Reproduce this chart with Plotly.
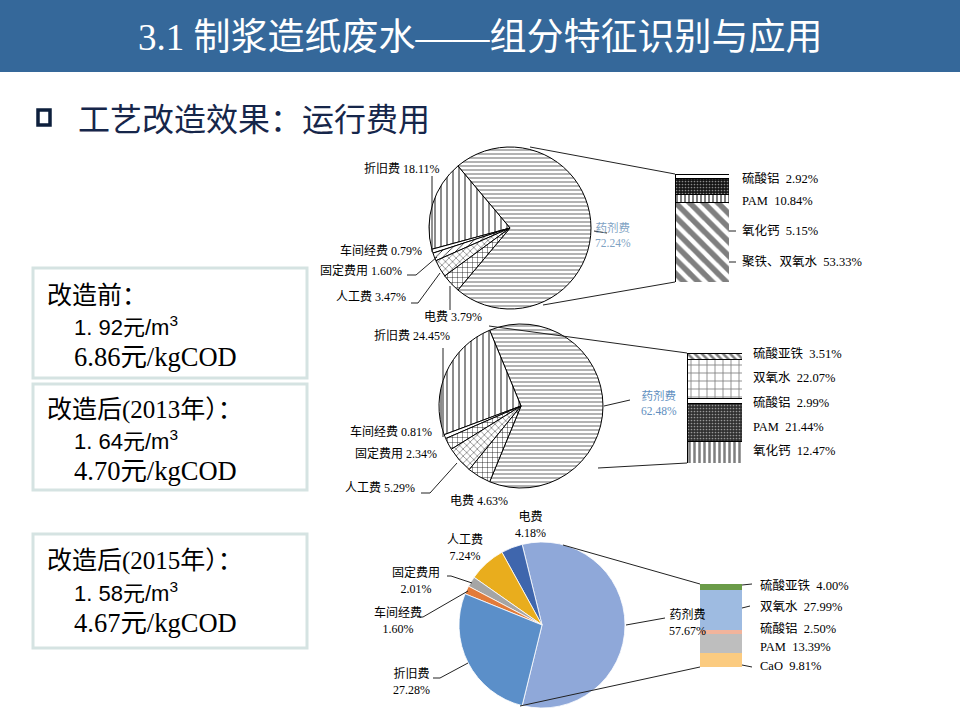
import plotly.graph_objects as go

W, H = 960, 720

# ---- data -------------------------------------------------------------
# 药剂费 first, the other items follow counterclockwise
before_labels = ["药剂费", "折旧费", "车间经费", "固定费用", "人工费", "电费"]
before_values = [72.24, 18.11, 0.79, 1.60, 3.47, 3.79]

after13_labels = ["药剂费", "折旧费", "车间经费", "固定费用", "人工费", "电费"]
after13_values = [62.48, 24.45, 0.81, 2.34, 5.29, 4.63]

after15_labels = ["药剂费", "电费", "人工费", "固定费用", "车间经费", "折旧费"]
after15_values = [57.67, 4.18, 7.24, 2.01, 1.60, 27.28]

# breakdown of 药剂费, listed bottom -> top of the stacked bar
bar1_labels = ["聚铁、双氧水", "氧化钙", "PAM", "硫酸铝"]
bar1_values = [53.33, 5.15, 10.84, 2.92]

bar2_labels = ["氧化钙", "PAM", "硫酸铝", "双氧水", "硫酸亚铁"]
bar2_values = [12.47, 21.44, 2.99, 22.07, 3.51]

bar3_labels = ["CaO", "PAM", "硫酸铝", "双氧水", "硫酸亚铁"]
bar3_values = [9.81, 13.39, 2.50, 27.99, 4.00]

box_titles = ["改造前：", "改造后(2013年）：", "改造后(2015年）："]
cost_m3 = ["1.92", "1.64", "1.58"]
cost_cod = ["6.86", "4.70", "4.67"]

SERIF = "Liberation Serif, Noto Sans CJK SC"
SANS = "Noto Sans CJK SC"


def px(x):
    return x / W


def py(y):
    return 1 - y / H


def start_rotation(values):
    # 药剂费 (first slice) centred at 3 o'clock, the rest centred at 9 o'clock
    other = sum(values[1:]) / sum(values) * 360
    start_math = 180 - other / 2
    return 90 - start_math


fig = go.Figure()

# ---- pies -------------------------------------------------------------
def pie_domain(cx, cy, r):
    return dict(x=[px(cx - r), px(cx + r)], y=[py(cy + r), py(cy - r)])


fig.add_trace(go.Pie(
    labels=before_labels, values=before_values, sort=False,
    direction="counterclockwise", rotation=start_rotation(before_values),
    domain=pie_domain(510, 228, 81), textinfo="none", textposition="none",
    showlegend=False,
    marker=dict(colors=["white"] * 6, line=dict(color="black", width=1),
                pattern=dict(shape=["-", "|", "", "/", "x", "+"], fgcolor="black",
                             bgcolor="white", size=[4, 6, 6, 5, 5, 5], solidity=0.15)),
))
fig.add_trace(go.Pie(
    labels=after13_labels, values=after13_values, sort=False,
    direction="counterclockwise", rotation=start_rotation(after13_values),
    domain=pie_domain(521, 406, 82), textinfo="none", textposition="none",
    showlegend=False,
    marker=dict(colors=["white"] * 6, line=dict(color="black", width=1),
                pattern=dict(shape=["-", "|", "", "+", "x", "+"], fgcolor="black",
                             bgcolor="white", size=[4, 6, 6, 5, 5, 5], solidity=0.15)),
))
fig.add_trace(go.Pie(
    labels=after15_labels, values=after15_values, sort=False,
    direction="counterclockwise", rotation=start_rotation(after15_values),
    domain=pie_domain(542, 625, 83), textinfo="none", textposition="none",
    showlegend=False,
    marker=dict(colors=["#8FA8D9", "#3F66AD", "#E9AD1D", "#A5A5A5", "#E27B3A", "#5B8FC9"],
                line=dict(color="white", width=0.8)),
))

# ---- stacked bars -----------------------------------------------------
dark_dots = dict(shape=".", size=3, solidity=0.25, fgcolor="white", bgcolor="#151515")
bars = [
    (bar1_labels, bar1_values, (675, 729, 174, 282),
     [dict(shape="\\", size=10, solidity=0.55), dict(shape="|", size=4, solidity=0.5),
      dark_dots, dict(shape="", size=4, solidity=0.3)],
     None),
    (bar2_labels, bar2_values, (687, 742, 353, 463),
     [dict(shape="|", size=5, solidity=0.5), dict(dark_dots, bgcolor="#303030"),
      dict(shape="", size=4, solidity=0.3), dict(shape="+", size=8, solidity=0.2),
      dict(shape="\\", size=5, solidity=0.5)],
     None),
    (bar3_labels, bar3_values, (700, 742, 584, 667), None,
     ["#FBCB80", "#BEBEBE", "#F1B49C", "#9EBBE1", "#6A9B48"]),
]

for i, (labels, values, box, patterns, colors) in enumerate(bars):
    n = "" if i == 0 else str(i + 1)
    x0, x1, y0, y1 = box
    for j, (lab, v) in enumerate(zip(labels, values)):
        if patterns:
            pat = dict(fgcolor="black", bgcolor="white")
            pat.update(patterns[j])
            marker = dict(color="white", line=dict(color="black", width=1), pattern=pat)
        else:
            marker = dict(color=colors[j], line=dict(width=0))
        fig.add_trace(go.Bar(x=[0], y=[v], name=lab, width=1, marker=marker,
                             xaxis="x" + n, yaxis="y" + n, showlegend=False))
    fig.layout["xaxis" + n] = dict(domain=[px(x0), px(x1)], range=[-0.5, 0.5],
                                   visible=False, fixedrange=True)
    fig.layout["yaxis" + n] = dict(domain=[py(y1), py(y0)], range=[0, sum(values)],
                                   visible=False, fixedrange=True)

fig.update_layout(barmode="stack")

# ---- annotations --------------------------------------------------------
ann = []


def text(x, y, s, size=12, color="black", family=SERIF, xanchor="center"):
    ann.append(dict(x=px(x), y=py(y), xref="paper", yref="paper", text=s,
                    showarrow=False, xanchor=xanchor, yanchor="middle",
                    font=dict(size=size, color=color, family=family)))


# header
text(480, 37, "3.1 制浆造纸废水——组分特征识别与应用", size=37, color="white")
text(76, 117, "工艺改造效果：运行费用", size=32, color="#16264A", family=SANS, xanchor="left")

# pie 1 labels
pos1 = {"折旧费": (402, 168), "车间经费": (381, 250), "固定费用": (361, 270),
        "人工费": (371, 297), "电费": (453, 317)}
for lab, v in zip(before_labels, before_values):
    if lab in pos1:
        text(*pos1[lab], f"{lab} {v:.2f}%", size=12)
text(613, 235, f"{before_labels[0]}<br>{before_values[0]:.2f}%", size=11.5, color="#7FA3C4")

pos2 = {"折旧费": (412, 335), "车间经费": (391, 431), "固定费用": (396, 453),
        "人工费": (380, 488), "电费": (479, 501)}
for lab, v in zip(after13_labels, after13_values):
    if lab in pos2:
        text(*pos2[lab], f"{lab} {v:.2f}%", size=12)
text(659, 403, f"{after13_labels[0]}<br>{after13_values[0]:.2f}%", size=11.5, color="#5F8FC0")

pos3 = {"电费": (530, 525), "人工费": (465, 548), "固定费用": (416, 580),
        "车间经费": (398, 620), "折旧费": (411, 681), "药剂费": (687, 622)}
for lab, v in zip(after15_labels, after15_values):
    text(*pos3[lab], f"{lab}<br>{v:.2f}%", size=12)

# bar labels
bar_label_pos = [
    [262, 231, 201, 178],
    [451, 427, 402, 378, 353],
    [666, 647, 628, 607, 585],
]
bar_label_x = [740, 751, 758]
for (labels, values, *_), ys, bx in zip(bars, bar_label_pos, bar_label_x):
    for lab, v, y in zip(labels, values, ys):
        text(bx, y, f"{lab}  {v:.2f}%", size=12.5, xanchor="left")

# text boxes
box_rows = [(293, 326, 357), (407, 440, 471), (558, 592, 623)]
for t, m3, cod, (y1, y2, y3) in zip(box_titles, cost_m3, cost_cod, box_rows):
    text(45, y1, t.replace("(", "<span style='font-family:Liberation Serif'>(")
         .replace("年", "</span>年"), size=25, family=SANS, xanchor="left")
    text(72, y2, f"{m3[:2]} {m3[2:]}元/m<sup>3</sup>", size=22,
         family="Liberation Sans, Noto Sans CJK SC", xanchor="left")
    text(72, y3, f"{cod}元/kgCOD", size=26.5, xanchor="left")

fig.update_layout(annotations=ann)

# ---- shapes -------------------------------------------------------------
shapes = [
    dict(type="rect", xref="paper", yref="paper", x0=0, x1=1, y0=py(72), y1=1,
         fillcolor="#35689A", line=dict(width=0), layer="below"),
    dict(type="rect", xref="paper", yref="paper", x0=px(38), x1=px(50), y0=py(125), y1=py(110),
         fillcolor="white", line=dict(color="#0D1F3C", width=3.5)),
]
for (x0, y0, x1, y1) in [(33, 268, 307, 378), (33, 384, 307, 490), (33, 534, 307, 648)]:
    shapes.append(dict(type="rect", xref="paper", yref="paper", x0=px(x0), x1=px(x1),
                       y0=py(y1), y1=py(y0), fillcolor="rgba(0,0,0,0)",
                       line=dict(color="#D5E3E2", width=3)))

polylines = [
    # pie-to-bar connectors
    [(530, 147), (675, 174)], [(543, 305), (675, 282)],
    [(489, 326), (687, 353)], [(598, 468), (687, 463)],
    [(563, 545), (700, 584)], [(520, 706), (700, 667)],
    # pie 1 leaders
    [(594, 231), (607, 233)], [(432, 176), (432, 252)],
    [(407, 275), (416, 275), (437, 257)], [(411, 303), (418, 303), (440, 273)],
    [(450, 286), (450, 310)],
    # pie 2 leaders
    [(604, 406), (630, 400)], [(443, 348), (443, 437)],
    [(421, 493), (430, 493), (457, 463)],
    # pie 3 leaders
    [(447, 576), (451, 576), (472, 583)], [(417, 617), (423, 617), (468, 591)],
    [(433, 678), (440, 678), (468, 663)], [(626, 625), (665, 618)],
    # bar leaders
    [(729, 231), (736, 231)], [(729, 262), (736, 262)],
    [(742, 585), (752, 584)], [(742, 608), (750, 606)], [(742, 665), (752, 667)],
]
for pts in polylines:
    path = "M " + " L ".join(f"{px(x)},{py(y)}" for x, y in pts)
    shapes.append(dict(type="path", xref="paper", yref="paper", path=path,
                       line=dict(color="#222222", width=1)))

fig.update_layout(
    shapes=shapes,
    width=W, height=H,
    margin=dict(l=0, r=0, t=0, b=0),
    paper_bgcolor="white", plot_bgcolor="white",
    font=dict(family=SERIF),
)

fig.write_html("out.html", config={"displayModeBar": False},
               post_script="document.body.style.margin='0';")
